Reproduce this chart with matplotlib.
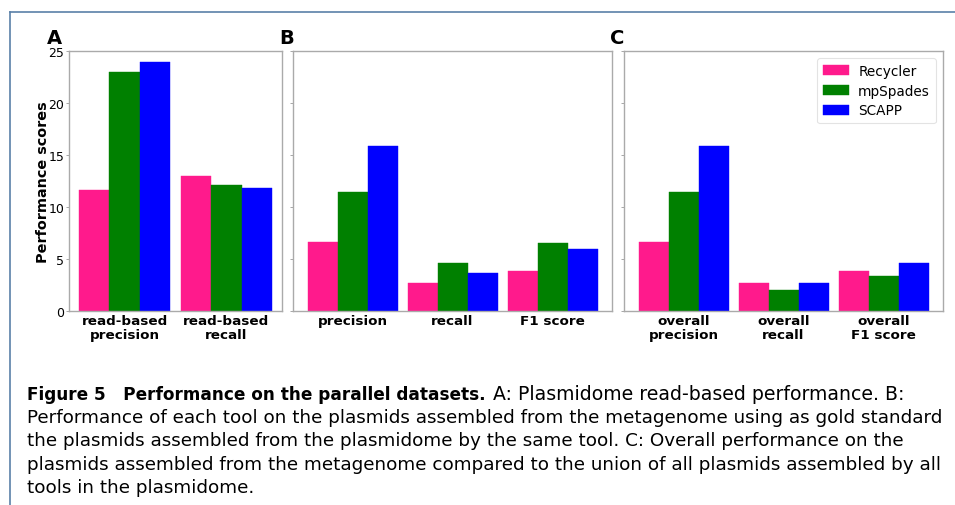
import matplotlib
matplotlib.use("Agg")
import matplotlib.pyplot as plt
import numpy as np
from matplotlib.lines import Line2D

tools = ["Recycler", "mpSpades", "SCAPP"]
colors = ["#ff1a8c", "#008000", "#0000ff"]

cats_a = ["read-based\nprecision", "read-based\nrecall"]
vals_a = {"Recycler": [11.6, 13.0], "mpSpades": [23.0, 12.1], "SCAPP": [23.9, 11.8]}

cats_b = ["precision", "recall", "F1 score"]
vals_b = {"Recycler": [6.6, 2.7, 3.85], "mpSpades": [11.4, 4.6, 6.5], "SCAPP": [15.9, 3.65, 5.95]}

cats_c = ["overall\nprecision", "overall\nrecall", "overall\nF1 score"]
vals_c = {"Recycler": [6.6, 2.7, 3.8], "mpSpades": [11.4, 2.0, 3.4], "SCAPP": [15.9, 2.7, 4.6]}

yticks = [0, 5, 10, 15, 20, 25]

W, H = 955, 506
fig = plt.figure(figsize=(W / 100, H / 100), dpi=100)

def fx(px):
    return px / W

def fy(py):
    return 1 - py / H

top_px, bot_px = 52, 312
panels = [
    ("A", 69, 282, cats_a, vals_a, True, 47),
    ("B", 293, 612, cats_b, vals_b, False, 279),
    ("C", 624, 943, cats_c, vals_c, False, 610),
]

bw = 0.3
axes = []
for letter, x0, x1, cats, vals, show_labels, lx in panels:
    ax = fig.add_axes([fx(x0), fy(bot_px), fx(x1 - x0), (bot_px - top_px) / H])
    x = np.arange(len(cats))
    for i, t in enumerate(tools):
        ax.bar(x + (i - 1) * bw, vals[t], width=bw, color=colors[i], label=t,
               edgecolor=colors[i], linewidth=0.3)
    ax.set_ylim(0, 25)
    ax.set_yticks(yticks)
    ax.set_xticks(x)
    ax.set_xticklabels(cats, fontweight="bold", fontsize=9.7, linespacing=1.15)
    ax.tick_params(axis="x", length=0, pad=2)
    ax.tick_params(axis="y", length=2.5, width=0.6, color="#999999", labelsize=9, pad=1)
    if not show_labels:
        ax.set_yticklabels([])
    for s in ax.spines.values():
        s.set_color("#aaaaaa")
        s.set_linewidth(1.0)
    fig.text(fx(lx), fy(44), letter, fontsize=14, fontweight="bold", ha="left", va="baseline")
    axes.append(ax)

axes[0].set_ylabel("Performance scores", fontweight="bold", fontsize=10.4, labelpad=-1)

leg = axes[2].legend(loc="upper right", fontsize=9.8, frameon=True, fancybox=True,
                     handlelength=1.9, handleheight=0.75, borderpad=0.45, labelspacing=0.42,
                     handletextpad=0.65)
leg.get_frame().set_edgecolor("#dddddd")
leg.get_frame().set_linewidth(0.8)

# Page frame lines
fig.add_artist(Line2D([fx(10), fx(10)], [fy(12.5), 0], color="#5a80a8", linewidth=1.2))
fig.add_artist(Line2D([fx(10), 1], [fy(12.5), fy(12.5)], color="#5a80a8", linewidth=1.2))

# Caption
cap_bold = "Figure 5   Performance on the parallel datasets."
cap_lines = [
    "A: Plasmidome read-based performance. B:",
    "Performance of each tool on the plasmids assembled from the metagenome using as gold standard",
    "the plasmids assembled from the plasmidome by the same tool. C: Overall performance on the",
    "plasmids assembled from the metagenome compared to the union of all plasmids assembled by all",
    "tools in the plasmidome.",
]
fam = ["DejaVu Sans"]
renderer = fig.canvas.get_renderer()

def width_at(txt, size, weight="normal"):
    p = fig.text(0, 0, txt, fontsize=size, family=fam, fontweight=weight)
    w = p.get_window_extent(renderer).width
    p.remove()
    return w

fs = 10 * (947 - 27) / width_at(cap_lines[1], 10)
fs1 = 10 * (905 - 493) / width_at(cap_lines[0], 10)
fsb = 10 * (487 - 27) / width_at(cap_bold, 10, "bold")

ys = [395, 418, 441, 465, 488]
xl = fx(27)
fig.text(xl, fy(ys[0]), cap_bold, fontsize=fsb, fontweight="bold", family=fam,
         va="center", ha="left")
fig.text(fx(493), fy(ys[0]), cap_lines[0], fontsize=fs1, family=fam,
         va="center", ha="left")
for yy, line in zip(ys[1:], cap_lines[1:]):
    fig.text(xl, fy(yy), line, fontsize=fs, family=fam, va="center", ha="left")

fig.savefig("out.png", dpi=100)
